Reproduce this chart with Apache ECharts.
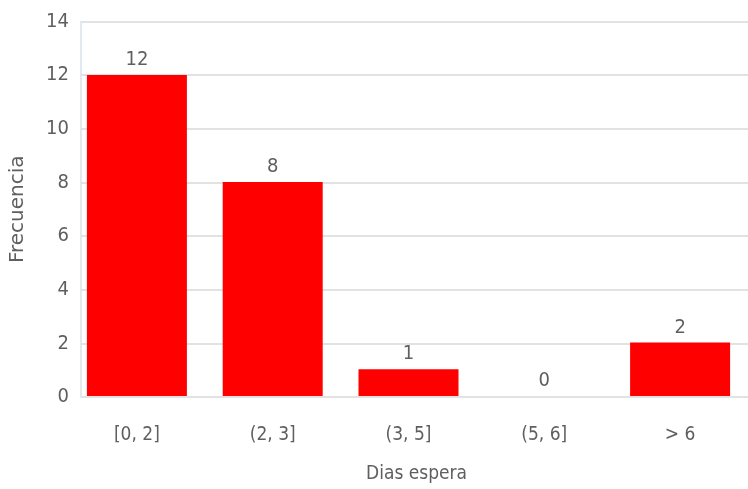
<!DOCTYPE html>
<html>
<head>
<meta charset="utf-8">
<script src="https://cdn.jsdelivr.net/npm/echarts@6/dist/echarts.min.js"></script>
<style>html,body{margin:0;padding:0;background:#fff}#c{width:748px;height:489px}</style>
</head>
<body>
<div id="c"></div>
<script>
const categories = ["[0, 2]", "(2, 3]", "(3, 5]", "(5, 6]", "> 6"];
const values = [12, 8, 1, 0, 2];
const yTicks = { min: 0, max: 14, interval: 2 };
const xName = "Dias espera";
const yName = "Frecuencia";

const FONT = "'DejaVu Sans Condensed', 'Liberation Sans Narrow', sans-serif";
const FONT_WIDE = "'DejaVu Sans', sans-serif";
const TXT = '#5f5f5f';
const chart = echarts.init(document.getElementById('c'), null, { renderer: 'canvas' });
chart.setOption({
  animation: false,
  backgroundColor: '#ffffff',
  textStyle: { fontFamily: FONT },
  grid: [
    { left: 69, top: 21.5, width: 683.5, height: 375.5 },
    { left: 79, top: 21.5, right: 0, height: 375.5 }
  ],
  xAxis: [
    {
      type: 'category', gridIndex: 0, data: categories,
      axisLine: { show: false }, axisTick: { show: false },
      axisLabel: { color: TXT, fontSize: 19, margin: 30, fontFamily: FONT },
      name: xName, nameLocation: 'middle', nameGap: 69,
      nameTextStyle: { color: TXT, fontSize: 19, fontFamily: FONT, padding: [0, 0, 0, 16] }
    },
    { type: 'category', gridIndex: 1, data: categories, show: false }
  ],
  yAxis: [
    { type: 'value', gridIndex: 0, min: yTicks.min, max: yTicks.max, interval: yTicks.interval, show: false },
    {
      type: 'value', gridIndex: 1, min: yTicks.min, max: yTicks.max, interval: yTicks.interval,
      axisLine: { show: true, lineStyle: { color: '#d8e2ea', width: 1.5 } },
      axisTick: { show: false },
      axisLabel: { color: TXT, fontSize: 20, margin: 12, fontFamily: FONT },
      splitLine: { show: true, lineStyle: { color: '#d9d9d9', width: 1.5 } },
      name: yName, nameLocation: 'middle', nameGap: 53, nameRotate: 90,
      nameTextStyle: { color: TXT, fontSize: 20, fontFamily: FONT_WIDE }
    }
  ],
  series: [{
    type: 'bar', xAxisIndex: 0, yAxisIndex: 0,
    data: values, barWidth: 100,
    itemStyle: { color: '#ff0000' },
    label: { show: true, position: 'top', distance: 5, color: TXT, fontSize: 20, fontFamily: FONT }
  }]
});
</script>
</body>
</html>
